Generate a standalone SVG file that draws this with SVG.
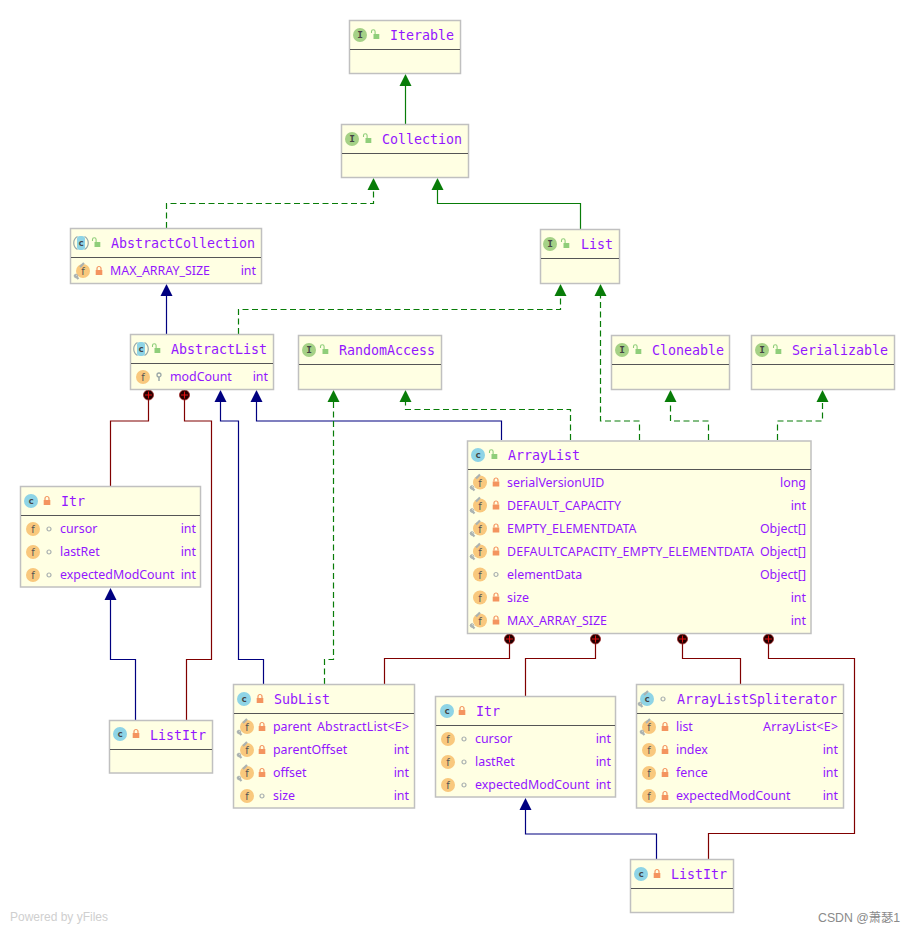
<svg xmlns="http://www.w3.org/2000/svg" xmlns:xlink="http://www.w3.org/1999/xlink" width="915" height="933" viewBox="0 0 915 933">
<style>
.box{fill:#ffffe3;stroke:#c0c0c0;stroke-width:1.5}
.sep{stroke:#555;stroke-width:1.2;fill:none}
.title{font:13.3px "DejaVu Sans Mono","Liberation Mono",monospace;fill:#9316ff}
.row{font:12.4px "Noto Sans","Liberation Sans",sans-serif;fill:#9316ff}
.type{text-anchor:end}
.ic{font:bold 9.500px "DejaVu Sans Mono","Liberation Mono",monospace;fill:#444;text-anchor:middle}
.fi{font:10px "DejaVu Sans","Liberation Sans",sans-serif;fill:#555;text-anchor:middle}
.c{fill:none;stroke-width:1.2}
.g{stroke:#087c08}.n{stroke:#000080}.r{stroke:#800000}
.d{stroke-dasharray:6 3.5}
.wm{font:12px "Liberation Sans",sans-serif;fill:#cfcfcf}
.wm2{font:12.3px "Liberation Sans","Noto Sans CJK SC",sans-serif;fill:#8a8a8a}
</style>
<defs>
<marker id="ag" markerUnits="userSpaceOnUse" markerWidth="14" markerHeight="14" refX="0" refY="6.5" orient="auto"><path d="M0 0.5L12 6.5L0 12.500Z" fill="#087c08"/></marker>
<marker id="an" markerUnits="userSpaceOnUse" markerWidth="14" markerHeight="14" refX="0" refY="6.500" orient="auto"><path d="M0 0.5L12 6.5L0 12.500Z" fill="#000080"/></marker>
<marker id="cr" markerUnits="userSpaceOnUse" markerWidth="14" markerHeight="14" refX="7" refY="7" orient="auto"><circle cx="7" cy="7" r="5" fill="#200" stroke="#a02020" stroke-width=".8"/><path d="M7 3.500V10.500M3.500 7H10.500" stroke="#e01010" stroke-width="1.100"/></marker>
<g id="lock"><path d="M-2 -1v-1.500a2 2 0 0 1 4 0V-1" fill="none" stroke="#f4945f" stroke-width="1.200"/><rect x="-3.300" y="-1" width="6.600" height="5" fill="#f4945f"/></g>
<g id="open"><path d="M-3.500 -2v-1.500a1.800 1.800 0 0 1 3.600 0V-1" fill="none" stroke="#8fce7a" stroke-width="1.100"/><rect x="-1.500" y="-1" width="5.800" height="5" fill="#8fce7a"/></g>
<circle id="pk" r="2" fill="none" stroke="#a9b0b0" stroke-width="1.200"/>
<g id="key"><circle cy="-2" r="2" fill="none" stroke="#9aa7a7" stroke-width="1.300"/><path d="M0 0V4" stroke="#9aa7a7" stroke-width="1.500"/></g>
<g id="pin"><path d="M-6.500 4L-2.500 8M3 -8L-1 -4" stroke="#aab2b2" stroke-width="2.200" fill="none"/><circle cx="-5" cy="5" r="1.800" fill="none" stroke="#aab2b2"/></g>
<circle id="ifc" r="7" fill="#a5d186"/>
<circle id="cls" r="7" fill="#8ed4e6"/>
<circle id="fld" r="7" fill="#f9c87d"/>
<g id="abs"><path d="M-3.500 -6.500a7.500 7.500 0 0 0 0 13M3.500 -6.500a7.500 7.500 0 0 1 0 13" fill="none" stroke="#9aa" stroke-width="1.200"/><rect x="-4" y="-7" width="8" height="14" rx="3" fill="#8ed4e6"/></g>
</defs>
<rect width="915" height="933" fill="#fff"/>
<g id="connectors">
<path class="c g" marker-end="url(#ag)" d="M405.500 124V86"/>
<path class="c g d" marker-end="url(#ag)" d="M166.500 228V203.500H373.500V190"/>
<path class="c g" marker-end="url(#ag)" d="M580.500 229V203.500H437.500V190"/>
<path class="c n" marker-end="url(#an)" d="M166.500 334V296"/>
<path class="c g d" marker-end="url(#ag)" d="M238.500 334V309.500H560.500V296"/>
<path class="c g d" marker-end="url(#ag)" d="M639.500 440V421H600.500V296"/>
<path class="c g d" marker-end="url(#ag)" d="M708.500 440V421H670.500V402"/>
<path class="c g d" marker-end="url(#ag)" d="M777.500 440V421H822.500V402"/>
<path class="c g d" marker-end="url(#ag)" d="M570.500 440V409.500H405.500V402"/>
<path class="c n" marker-end="url(#an)" d="M501.500 440V421H256.500V402"/>
<path class="c n" marker-end="url(#an)" d="M263.500 684V659.500H238.500V421H220.500V402"/>
<path class="c g d" marker-end="url(#ag)" d="M324.500 684V659.500H333.500V402"/>
<path class="c r" marker-end="url(#cr)" d="M110.500 486V421H148.500V395"/>
<path class="c r" marker-end="url(#cr)" d="M186.500 720V659.500H211.500V421H184.500V395"/>
<path class="c n" marker-end="url(#an)" d="M135.500 720V659.500H110.500V600"/>
<path class="c r" marker-end="url(#cr)" d="M384.500 684V658.500H509.500V639"/>
<path class="c r" marker-end="url(#cr)" d="M525.500 696V658.500H595.500V639"/>
<path class="c r" marker-end="url(#cr)" d="M740.500 684V658.500H682.500V639"/>
<path class="c r" marker-end="url(#cr)" d="M708.500 859V833.500H854.500V658.500H768.500V639"/>
<path class="c n" marker-end="url(#an)" d="M656.500 859V834H525.500V810"/>
</g>
<g id="Iterable"><rect class="box" x="349.500" y="20.500" width="111" height="53"/><path class="sep" d="M350 49.500H460"/><use href="#ifc" x="360" y="35"/><text class="ic" x="360" y="38">I</text><use href="#open" x="375" y="35"/><text class="title" x="390" y="40">Iterable</text></g>
<g id="Collection"><rect class="box" x="341.500" y="124.500" width="127" height="53"/><path class="sep" d="M342 153.500H468"/><use href="#ifc" x="352" y="139"/><text class="ic" x="352" y="142">I</text><use href="#open" x="367" y="139"/><text class="title" x="382" y="144">Collection</text></g>
<g id="AbstractCollection"><rect class="box" x="70.500" y="228.500" width="191" height="55"/><path class="sep" d="M71 257.500H261"/><use href="#abs" x="81" y="243"/><text class="ic" x="81" y="246">c</text><use href="#open" x="96" y="243"/><text class="title" x="111" y="248">AbstractCollection</text><use href="#fld" x="83" y="271"/><use href="#pin" x="81" y="271"/><text class="fi" x="83" y="275">f</text><use href="#lock" x="99" y="271"/><text class="row" x="110" y="275">MAX_ARRAY_SIZE</text><text class="row type" x="256" y="275">int</text></g>
<g id="List"><rect class="box" x="540.500" y="229.500" width="79" height="54"/><path class="sep" d="M541 258.500H619"/><use href="#ifc" x="550" y="244"/><text class="ic" x="550" y="247">I</text><use href="#open" x="565" y="244"/><text class="title" x="581" y="249">List</text></g>
<g id="AbstractList"><rect class="box" x="130.500" y="334.500" width="143" height="55"/><path class="sep" d="M131 363.500H273"/><use href="#abs" x="141" y="349"/><text class="ic" x="141" y="352">c</text><use href="#open" x="156" y="349"/><text class="title" x="171" y="354">AbstractList</text><use href="#fld" x="143" y="377"/><text class="fi" x="143" y="381">f</text><use href="#key" x="159" y="377"/><text class="row" x="170" y="381">modCount</text><text class="row type" x="268" y="381">int</text></g>
<g id="RandomAccess"><rect class="box" x="298.500" y="335.500" width="143" height="54"/><path class="sep" d="M299 364.500H441"/><use href="#ifc" x="309" y="350"/><text class="ic" x="309" y="353">I</text><use href="#open" x="324" y="350"/><text class="title" x="339" y="355">RandomAccess</text></g>
<g id="Cloneable"><rect class="box" x="611.500" y="335.500" width="118" height="54"/><path class="sep" d="M612 364.500H729"/><use href="#ifc" x="622" y="350"/><text class="ic" x="622" y="353">I</text><use href="#open" x="637" y="350"/><text class="title" x="652" y="355">Cloneable</text></g>
<g id="Serializable"><rect class="box" x="751.500" y="335.500" width="143" height="54"/><path class="sep" d="M752 364.500H894"/><use href="#ifc" x="762" y="350"/><text class="ic" x="762" y="353">I</text><use href="#open" x="777" y="350"/><text class="title" x="792" y="355">Serializable</text></g>
<g id="ArrayList"><rect class="box" x="467.500" y="441" width="343.500" height="192.500"/><path class="sep" d="M468 469.500H811"/><use href="#cls" x="478" y="455"/><text class="ic" x="478" y="458">c</text><use href="#open" x="493" y="455"/><text class="title" x="508" y="460">ArrayList</text>
<use href="#fld" x="480" y="482.500"/><use href="#pin" x="477" y="482.500"/><text class="fi" x="480" y="486.500">f</text><use href="#lock" x="496" y="482.500"/><text class="row" x="507" y="487">serialVersionUID</text><text class="row type" x="806" y="487">long</text>
<use href="#fld" x="480" y="505.500"/><use href="#pin" x="477" y="505.500"/><text class="fi" x="480" y="509.500">f</text><use href="#lock" x="496" y="505.500"/><text class="row" x="507" y="510">DEFAULT_CAPACITY</text><text class="row type" x="806" y="510">int</text>
<use href="#fld" x="480" y="528.500"/><use href="#pin" x="477" y="528.500"/><text class="fi" x="480" y="532.500">f</text><use href="#lock" x="496" y="528.500"/><text class="row" x="507" y="533">EMPTY_ELEMENTDATA</text><text class="row type" x="806" y="533">Object[]</text>
<use href="#fld" x="480" y="551.500"/><use href="#pin" x="477" y="551.500"/><text class="fi" x="480" y="555.500">f</text><use href="#lock" x="496" y="551.500"/><text class="row" x="507" y="556" textLength="247">DEFAULTCAPACITY_EMPTY_ELEMENTDATA</text><text class="row type" x="806" y="556">Object[]</text>
<use href="#fld" x="480" y="574.500"/><text class="fi" x="480" y="578.500">f</text><use href="#pk" x="496" y="574.500"/><text class="row" x="507" y="579">elementData</text><text class="row type" x="806" y="579">Object[]</text>
<use href="#fld" x="480" y="597.500"/><text class="fi" x="480" y="601.500">f</text><use href="#lock" x="496" y="597.500"/><text class="row" x="507" y="602">size</text><text class="row type" x="806" y="602">int</text>
<use href="#fld" x="480" y="620.500"/><use href="#pin" x="477" y="620.500"/><text class="fi" x="480" y="624.500">f</text><use href="#lock" x="496" y="620.500"/><text class="row" x="507" y="625">MAX_ARRAY_SIZE</text><text class="row type" x="806" y="625">int</text></g>
<g id="Itr1"><rect class="box" x="20.500" y="486.500" width="180" height="100.500"/><path class="sep" d="M21 515.500H200"/><use href="#cls" x="31" y="501"/><text class="ic" x="31" y="504">c</text><use href="#lock" x="47" y="501"/><text class="title" x="61" y="506">Itr</text>
<use href="#fld" x="33" y="529"/><text class="fi" x="33" y="533">f</text><use href="#pk" x="49" y="529"/><text class="row" x="60" y="533">cursor</text><text class="row type" x="196" y="533">int</text>
<use href="#fld" x="33" y="552"/><text class="fi" x="33" y="556">f</text><use href="#pk" x="49" y="552"/><text class="row" x="60" y="556">lastRet</text><text class="row type" x="196" y="556">int</text>
<use href="#fld" x="33" y="575"/><text class="fi" x="33" y="579">f</text><use href="#pk" x="49" y="575"/><text class="row" x="60" y="579">expectedModCount</text><text class="row type" x="196" y="579">int</text></g>
<g id="ListItr1"><rect class="box" x="109.500" y="720.500" width="103" height="52.500"/><path class="sep" d="M110 749.500H212"/><use href="#cls" x="120" y="734"/><text class="ic" x="120" y="737">c</text><use href="#lock" x="136" y="734"/><text class="title" x="150" y="740">ListItr</text></g>
<g id="SubList"><rect class="box" x="233.500" y="684.500" width="181" height="123.500"/><path class="sep" d="M234 713.500H414"/><use href="#cls" x="244" y="699"/><text class="ic" x="244" y="702">c</text><use href="#lock" x="260" y="699"/><text class="title" x="274" y="704">SubList</text>
<use href="#fld" x="247" y="727"/><use href="#pin" x="244" y="727"/><text class="fi" x="247" y="731">f</text><use href="#lock" x="262" y="727"/><text class="row" x="273" y="731">parent</text><text class="row type" x="409" y="731" textLength="92">AbstractList&lt;E&gt;</text>
<use href="#fld" x="247" y="750"/><use href="#pin" x="244" y="750"/><text class="fi" x="247" y="754">f</text><use href="#lock" x="262" y="750"/><text class="row" x="273" y="754">parentOffset</text><text class="row type" x="409" y="754">int</text>
<use href="#fld" x="247" y="773"/><use href="#pin" x="244" y="773"/><text class="fi" x="247" y="777">f</text><use href="#lock" x="262" y="773"/><text class="row" x="273" y="777">offset</text><text class="row type" x="409" y="777">int</text>
<use href="#fld" x="247" y="796"/><text class="fi" x="247" y="800">f</text><use href="#pk" x="262" y="796"/><text class="row" x="273" y="800">size</text><text class="row type" x="409" y="800">int</text></g>
<g id="Itr2"><rect class="box" x="435.500" y="696.500" width="180" height="100.500"/><path class="sep" d="M436 725.500H615"/><use href="#cls" x="447" y="711"/><text class="ic" x="447" y="714">c</text><use href="#lock" x="462" y="711"/><text class="title" x="476" y="716">Itr</text>
<use href="#fld" x="448" y="739"/><text class="fi" x="448" y="743">f</text><use href="#pk" x="464" y="739"/><text class="row" x="475" y="743">cursor</text><text class="row type" x="611" y="743">int</text>
<use href="#fld" x="448" y="762"/><text class="fi" x="448" y="766">f</text><use href="#pk" x="464" y="762"/><text class="row" x="475" y="766">lastRet</text><text class="row type" x="611" y="766">int</text>
<use href="#fld" x="448" y="785"/><text class="fi" x="448" y="789">f</text><use href="#pk" x="464" y="785"/><text class="row" x="475" y="789">expectedModCount</text><text class="row type" x="611" y="789">int</text></g>
<g id="ArrayListSpliterator"><rect class="box" x="636.500" y="684.500" width="207" height="123.500"/><path class="sep" d="M637 713.500H843"/><use href="#cls" x="647" y="699"/><use href="#pin" x="645" y="699"/><text class="ic" x="647" y="702">c</text><use href="#pk" x="663" y="699"/><text class="title" x="677" y="704">ArrayListSpliterator</text>
<use href="#fld" x="649" y="727"/><use href="#pin" x="647" y="727"/><text class="fi" x="649" y="731">f</text><use href="#lock" x="665" y="727"/><text class="row" x="676" y="731">list</text><text class="row type" x="838" y="731" textLength="75">ArrayList&lt;E&gt;</text>
<use href="#fld" x="649" y="750"/><text class="fi" x="649" y="754">f</text><use href="#lock" x="665" y="750"/><text class="row" x="676" y="754">index</text><text class="row type" x="838" y="754">int</text>
<use href="#fld" x="649" y="773"/><text class="fi" x="649" y="777">f</text><use href="#lock" x="665" y="773"/><text class="row" x="676" y="777">fence</text><text class="row type" x="838" y="777">int</text>
<use href="#fld" x="649" y="796"/><text class="fi" x="649" y="800">f</text><use href="#lock" x="665" y="796"/><text class="row" x="676" y="800">expectedModCount</text><text class="row type" x="838" y="800">int</text></g>
<g id="ListItr2"><rect class="box" x="630.500" y="859.500" width="103" height="53"/><path class="sep" d="M631 888.500H733"/><use href="#cls" x="641" y="874"/><text class="ic" x="641" y="877">c</text><use href="#lock" x="657" y="874"/><text class="title" x="671" y="879">ListItr</text></g>
<text class="wm" x="10" y="921">Powered by yFiles</text>
<text class="wm2" x="818" y="922">CSDN @萧瑟1</text>
</svg>
